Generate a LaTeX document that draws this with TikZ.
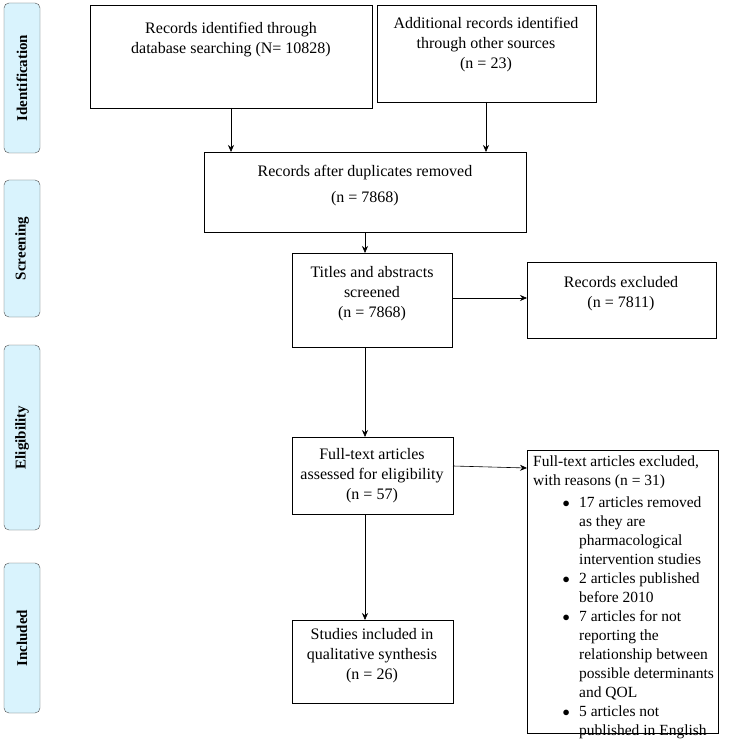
\documentclass[tikz,border=0pt]{standalone}
\usepackage{fontspec}
\usepackage{array}
\setmainfont{Liberation Serif}
\usetikzlibrary{arrows.meta}
\begin{document}
\begin{tikzpicture}[x=1pt,y=-1pt,
  box/.style={align=center,font=\fontsize{16}{20}\selectfont,inner sep=2pt},
  side/.style={draw=black!70,fill=cyan!15,rounded corners=5pt},
  lab/.style={rotate=90,font=\bfseries\fontsize{15}{17}\selectfont},
  arr/.style={-{Stealth[length=7pt,width=6pt]},semithick}]
\useasboundingbox (0,0) rectangle (750,741);
\foreach \n/\t/\a/\b in {id/Identification/3/153, sc/Screening/180/317, el/Eligibility/345/530, in/Included/563/713}{
  \draw[side] (4,\a) rectangle (40,\b);
  \node[lab] (\n) at (22,{(\a+\b)/2}) {\t};
}
\draw[thick] (90,5) rectangle (372,108); \node[box] (b1) at (231,40) {Records identified through\\database searching (N= 10828)};
\coordinate (b1s) at (231,108);
\draw[thick] (377,5) rectangle (596,102); \node[box] (b2) at (486,45) {Additional records identified\\through other sources\\(n = 23)};
\coordinate (b2s) at (486,102);
\draw[thick] (204,152) rectangle (526,232); \node[box] (b3) at (365,186) {Records after duplicates removed\\[6pt](n = 7868)};
\coordinate (b3n1) at (231,152); \coordinate (b3n2) at (486,152); \coordinate (b3s) at (365,232);
\draw[thick] (292,253) rectangle (452,347); \node[box] (b4) at (372,294) {Titles and abstracts\\screened\\(n = 7868)};
\coordinate (b4n) at (365,253); \coordinate (b4e) at (452,298); \coordinate (b4s) at (365,347);
\draw[thick] (527,262) rectangle (716,338); \node[box] (ex1) at (621,294) {Records excluded\\(n = 7811)};
\coordinate (ex1w) at (527,298);
\draw[thick] (292,437) rectangle (453,514); \node[box] (b5) at (372,476) {Full-text articles\\assessed for eligibility\\(n = 57)};
\coordinate (b5n) at (365,437); \coordinate (b5e) at (453,466); \coordinate (b5s) at (365,514);
\draw[thick] (527,450) rectangle (718,733);
\node[align=left,anchor=north west,font=\fontsize{15.5}{19}\selectfont,inner sep=0pt] (ex2) at (533,456) {Full-text articles excluded,\\with reasons (n = 31)};
\node[anchor=north west,font=\fontsize{15.5}{19}\selectfont,inner sep=0pt] (ex2l) at (560,494) {%
\begin{tabular}{@{}>{\centering}p{12pt}@{\hspace{7pt}}>{\raggedright\arraybackslash}p{138pt}@{}}
$\bullet$ & 17 articles removed as they are pharmacological intervention studies\\
$\bullet$ & 2 articles published before 2010\\
$\bullet$ & 7 articles for not reporting the relationship between possible determinants and QOL\\
$\bullet$ & 5 articles not published in English
\end{tabular}};
\coordinate (ex2w) at (527,468);
\draw[thick] (292,620) rectangle (453,703); \node[box] (b6) at (372,656) {Studies included in\\qualitative synthesis\\(n = 26)};
\coordinate (b6n) at (365,620);
\draw[arr] (b1s) -- (b3n1);
\draw[arr] (b2s) -- (b3n2);
\draw[arr] (b3s) -- (b4n);
\draw[arr] (b4e) -- (ex1w);
\draw[arr] (b4s) -- (b5n);
\draw[arr] (b5e) -- (ex2w);
\draw[arr] (b5s) -- (b6n);
\end{tikzpicture}
\end{document}
